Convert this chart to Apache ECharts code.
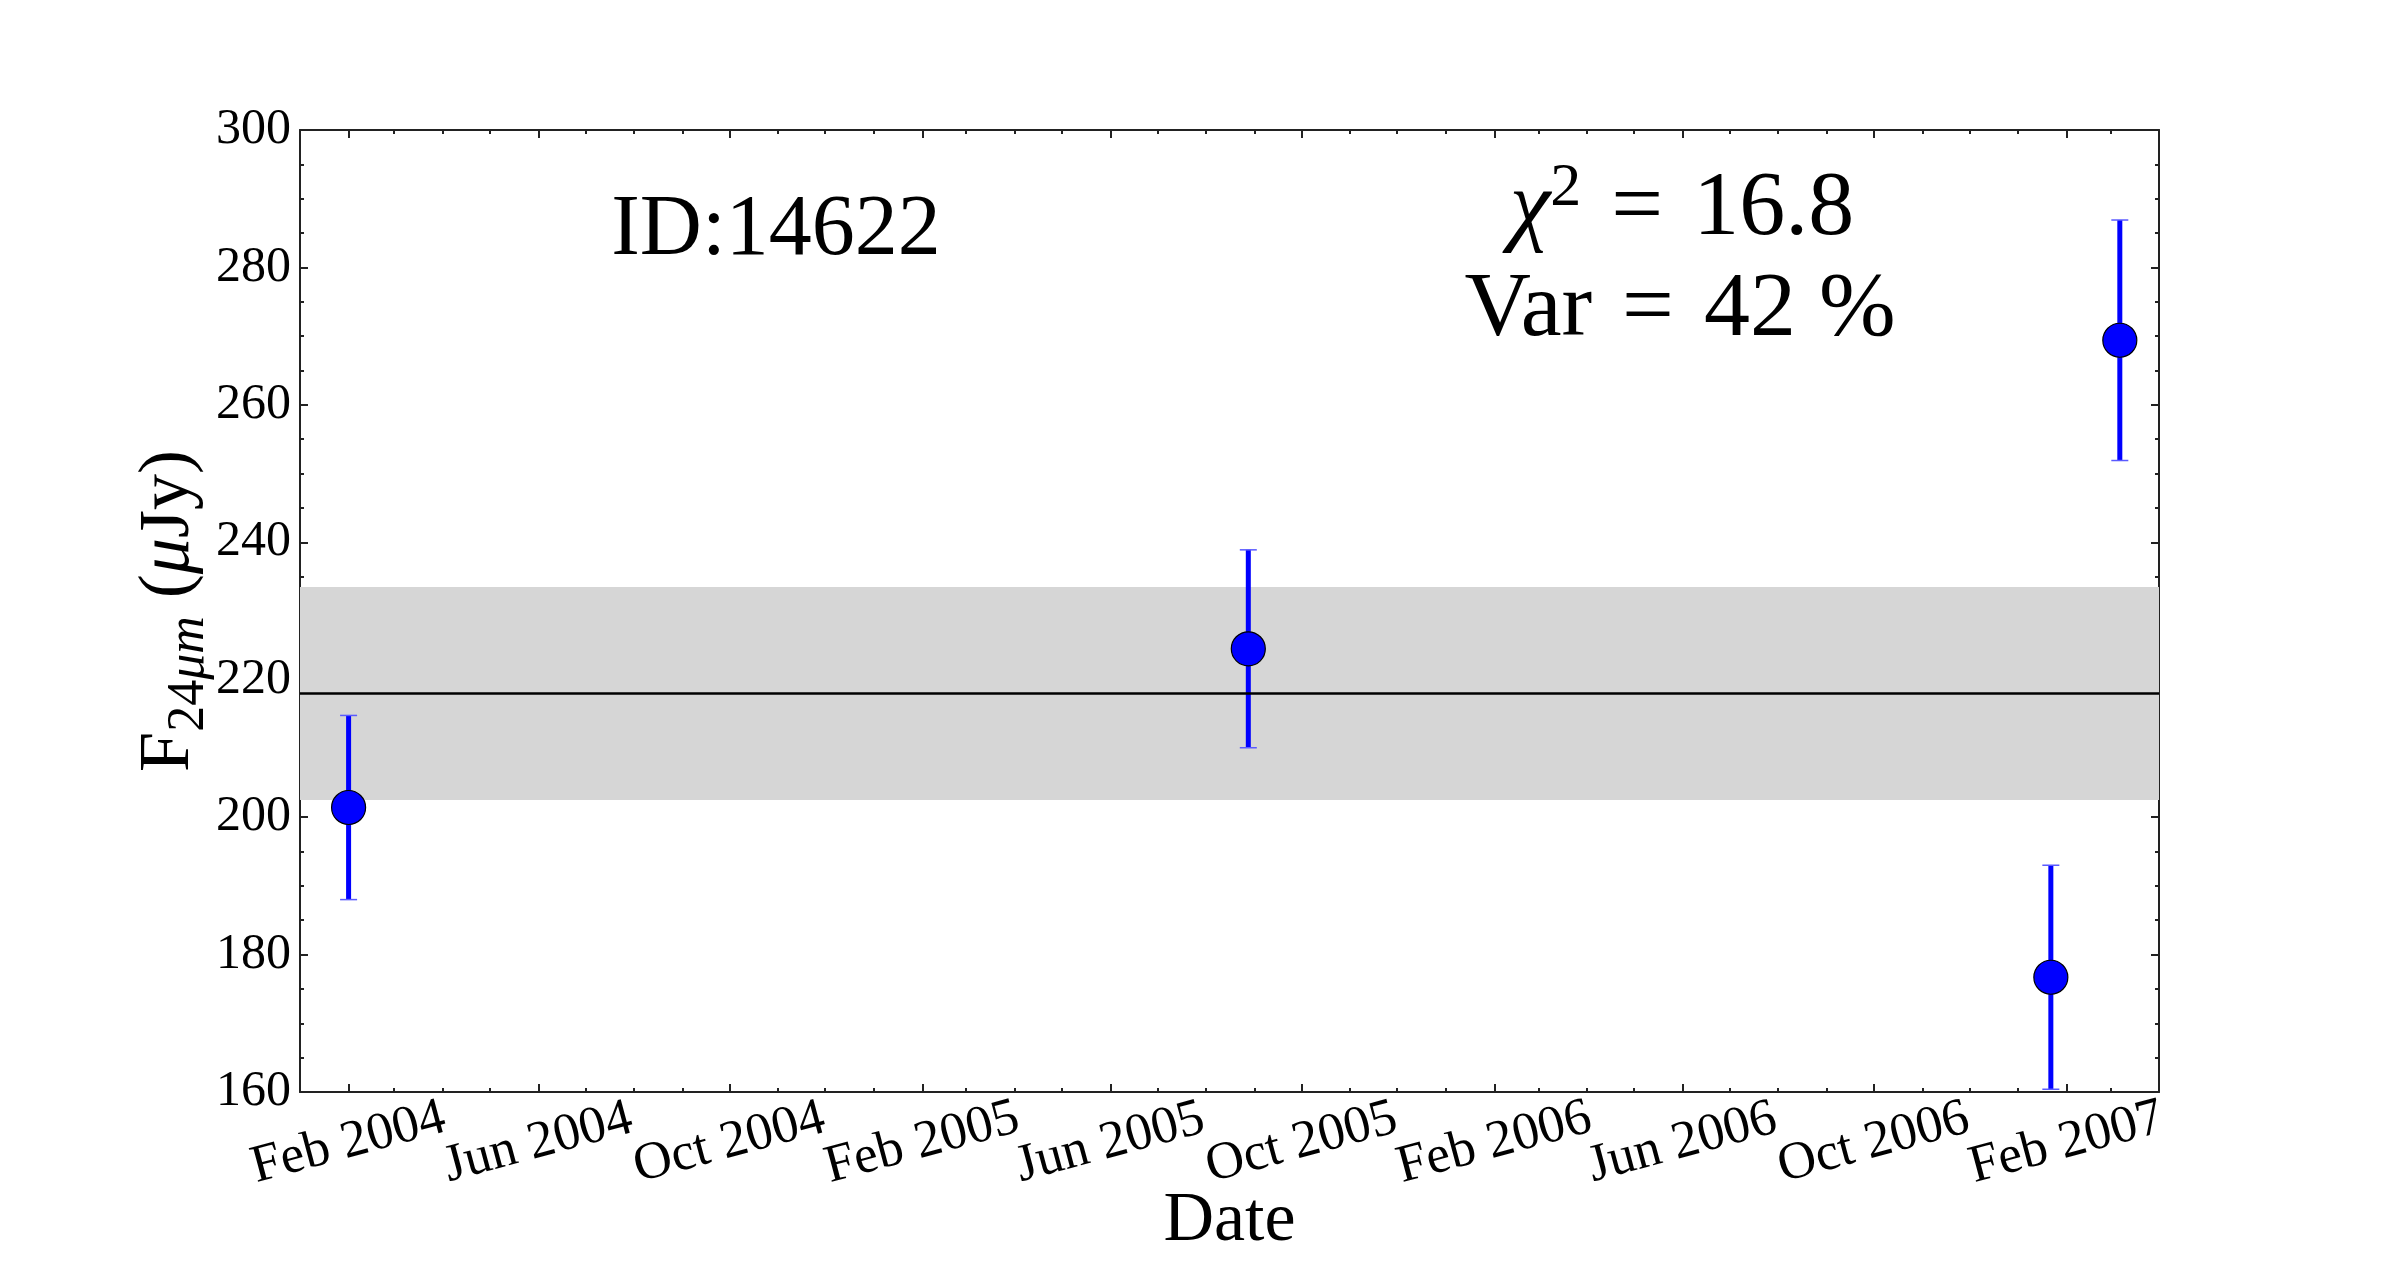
<!DOCTYPE html>
<html>
<head>
<meta charset="utf-8">
<script src="https://cdn.jsdelivr.net/npm/echarts@6/dist/echarts.min.js"></script>
<style>
  html, body { margin: 0; padding: 0; background: #ffffff; }
  #chart { width: 2400px; height: 1285px; }
</style>
</head>
<body>
<div id="chart"></div>
<script>
// ---- data ----
const obsDates = ['2004-02-01', '2005-08-28', '2007-01-22', '2007-03-07'];
const fluxValues = [201.4, 224.5, 176.7, 269.4];
const fluxErrors = [13.4, 14.4, 16.3, 17.5];
const meanFlux = 218.0;
const bandLow = 202.5;
const bandHigh = 233.5;

const xTickDates = ['2004-02-01', '2004-06-01', '2004-10-01', '2005-02-01', '2005-06-01',
                    '2005-10-01', '2006-02-01', '2006-06-01', '2006-10-01', '2007-02-01'];
const xTickLabels = ['Feb 2004', 'Jun 2004', 'Oct 2004', 'Feb 2005', 'Jun 2005',
                     'Oct 2005', 'Feb 2006', 'Jun 2006', 'Oct 2006', 'Feb 2007'];
const xRange = ['2004-01-01', '2007-04-01'];
const yRange = [160, 300];
const yStep = 20;

const idText = 'ID:14622';
const chi2Text = '16.8';
const varText = '42 %';

// ---- helpers ----
const ts = s => Date.parse(s + 'T00:00:00Z');
const majorTicks = xTickDates.map(ts);
const evenTicks = majorTicks.filter((t, i) => i % 2 === 0);
const oddTicks = majorTicks.filter((t, i) => i % 2 === 1);
const minorTicks = [];
for (let y = 2004; y <= 2007; y++) {
  for (let m = 0; m < 12; m++) {
    const t = Date.UTC(y, m, 1);
    if (t >= ts(xRange[0]) && t <= ts(xRange[1])) minorTicks.push(t);
  }
}
const labelFor = v => {
  const i = majorTicks.indexOf(v);
  return i >= 0 ? xTickLabels[i] : '';
};

const FONT = '"Liberation Serif", "DejaVu Serif", serif';
const AXC = '#222';

const points = obsDates.map((d, i) => [ts(d), fluxValues[i]]);
const errData = obsDates.map((d, i) => [ts(d), fluxValues[i] - fluxErrors[i], fluxValues[i] + fluxErrors[i]]);

function xAx(position, ticks, len, showLine, labelValues) {
  return {
    type: 'value', position: position,
    min: ts(xRange[0]), max: ts(xRange[1]),
    axisLine: { show: showLine, lineStyle: { color: AXC, width: 2 } },
    axisTick: { show: true, inside: true, length: len, customValues: ticks, lineStyle: { color: AXC, width: 2 } },
    axisLabel: labelValues ? {
      show: true, customValues: labelValues, formatter: labelFor, rotate: 15,
      align: 'center', verticalAlign: 'middle', margin: 51,
      showMinLabel: true, showMaxLabel: true, hideOverlap: false,
      fontFamily: FONT, fontSize: 53, color: '#000'
    } : { show: false },
    splitLine: { show: false }
  };
}
function yAx(position, showLabel) {
  return {
    type: 'value', position: position,
    min: yRange[0], max: yRange[1], interval: yStep,
    axisLine: { show: true, lineStyle: { color: AXC, width: 2 } },
    axisTick: { show: true, inside: true, length: 8, lineStyle: { color: AXC, width: 2 } },
    minorTick: { show: true, splitNumber: 4, length: 4, lineStyle: { color: AXC, width: 2 } },
    axisLabel: showLabel ? { show: true, margin: 9, fontFamily: FONT, fontSize: 50, color: '#000',
                             showMinLabel: true, showMaxLabel: true } : { show: false },
    splitLine: { show: false },
    minorSplitLine: { show: false }
  };
}

const xAxes = [
  xAx('bottom', majorTicks, 8, true, evenTicks),
  xAx('bottom', minorTicks, 4, false, oddTicks),
  xAx('top', majorTicks, 8, true, null),
  xAx('top', minorTicks, 4, false, null)
];
xAxes[0].name = 'Date';
xAxes[0].nameLocation = 'middle';
xAxes[0].nameMoveOverlap = false;
xAxes[0].nameGap = 95;
xAxes[0].nameTextStyle = { fontFamily: FONT, fontSize: 70, color: '#000' };

const yAxes = [yAx('left', true), yAx('right', false)];
yAxes[0].name = '{n|F}{sub|24}{subi|μm}{n| (}{it|μ}{n|Jy)}';
yAxes[0].nameLocation = 'middle';
yAxes[0].nameMoveOverlap = false;
yAxes[0].nameGap = 85;
yAxes[0].nameTextStyle = {
  fontFamily: FONT, fontSize: 72, color: '#000',
  rich: {
    n: { fontFamily: FONT, fontSize: 72, color: '#000', lineHeight: 92 },
    it: { fontFamily: FONT, fontSize: 72, fontStyle: 'italic', color: '#000', lineHeight: 92 },
    sub: { fontFamily: FONT, fontSize: 52, color: '#000', verticalAlign: 'bottom', lineHeight: 92 },
    subi: { fontFamily: FONT, fontSize: 52, fontStyle: 'italic', color: '#000', verticalAlign: 'bottom', lineHeight: 92 }
  }
};

const annRich = {
  it: { fontFamily: FONT, fontSize: 92, fontStyle: 'italic', fill: '#000', lineHeight: 104 },
  sup: { fontFamily: FONT, fontSize: 62, fill: '#000', verticalAlign: 'top', lineHeight: 104 },
  n: { fontFamily: FONT, fontSize: 92, fill: '#000', lineHeight: 104 },
  eq: { fontFamily: FONT, fontSize: 92, fill: '#000', lineHeight: 104, padding: [0, 30, 0, 30] }
};

const chart = echarts.init(document.getElementById('chart'), null, { renderer: 'canvas' });
chart.setOption({
  animation: false,
  backgroundColor: '#ffffff',
  grid: { left: 300, right: 241, top: 130, bottom: 193, containLabel: false },
  xAxis: xAxes,
  yAxis: yAxes,
  graphic: [
    { type: 'text', x: 776, y: 231, z: 50,
      style: { text: idText, fontFamily: FONT, fontSize: 86, fill: '#000', align: 'center', verticalAlign: 'middle' } },
    { type: 'text', x: 1682, y: 210, z: 50,
      style: {
        text: '{it|χ}{sup|2}{eq|=}{n|' + chi2Text + '}', align: 'center', verticalAlign: 'middle',
        fontFamily: FONT, fontSize: 92, fill: '#000', rich: annRich
      } },
    { type: 'text', x: 1680, y: 311, z: 50,
      style: {
        text: '{n|Var}{eq|=}{n|' + varText + '}', align: 'center', verticalAlign: 'middle',
        fontFamily: FONT, fontSize: 92, fill: '#000', rich: annRich
      } }
  ],
  series: [
    {
      name: 'band', type: 'line', data: [], xAxisIndex: 0, yAxisIndex: 0, z: 1,
      markArea: {
        silent: true,
        itemStyle: { color: '#d6d6d6' },
        data: [[{ yAxis: bandLow }, { yAxis: bandHigh }]]
      }
    },
    {
      name: 'error', type: 'custom', xAxisIndex: 0, yAxisIndex: 0, z: 3,
      data: errData,
      encode: { x: 0, y: [1, 2] },
      renderItem: function (params, api) {
        const x = api.value(0), lo = api.value(1), hi = api.value(2);
        const top = api.coord([x, hi]);
        const bot = api.coord([x, lo]);
        const cw = 8.5;
        return {
          type: 'group',
          children: [
            { type: 'line', shape: { x1: top[0], y1: top[1], x2: bot[0], y2: bot[1] },
              style: { stroke: '#0000ff', lineWidth: 5 } },
            { type: 'line', shape: { x1: top[0] - cw, y1: top[1], x2: top[0] + cw, y2: top[1] },
              style: { stroke: '#5a5aff', lineWidth: 1.5 } },
            { type: 'line', shape: { x1: bot[0] - cw, y1: bot[1], x2: bot[0] + cw, y2: bot[1] },
              style: { stroke: '#5a5aff', lineWidth: 1.5 } }
          ]
        };
      }
    },
    {
      name: 'mean', type: 'line', data: [], xAxisIndex: 0, yAxisIndex: 0, z: 4,
      markLine: {
        silent: true, symbol: ['none', 'none'],
        label: { show: false },
        lineStyle: { color: '#000', width: 2.5, type: 'solid' },
        data: [{ yAxis: meanFlux }]
      }
    },
    {
      name: 'flux', type: 'scatter', xAxisIndex: 0, yAxisIndex: 0, z: 5,
      data: points,
      symbol: 'circle', symbolSize: 34,
      itemStyle: { color: '#0000ff', borderColor: '#000', borderWidth: 1.2, opacity: 1 }
    }
  ]
});
</script>
</body>
</html>
